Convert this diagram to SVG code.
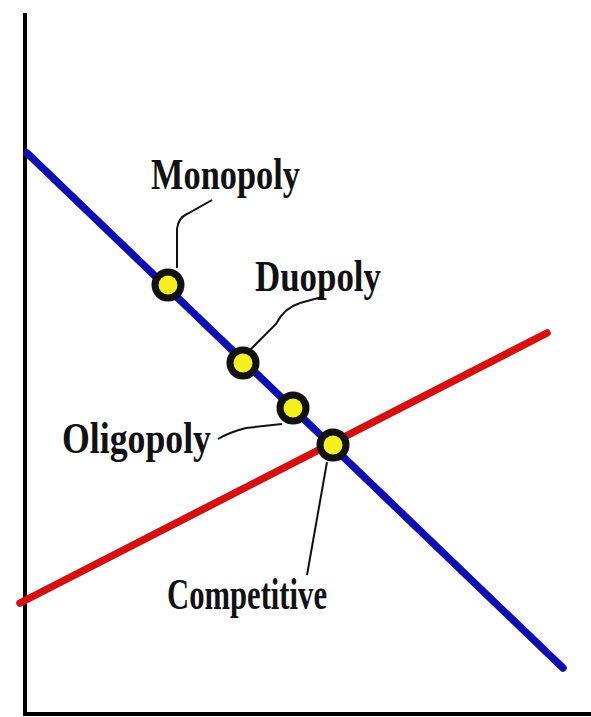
<svg xmlns="http://www.w3.org/2000/svg" width="591" height="717" viewBox="0 0 591 717">
<style>
.lbl{font-family:"Liberation Serif","Times New Roman",serif;font-weight:bold;font-size:45px;fill:#111}
.lead{fill:none;stroke:#111;stroke-width:2}
.pt{fill:#f4f020;stroke:#111;stroke-width:7}
</style>
<rect width="591" height="717" fill="#fff"/>
<g id="axes" stroke="#000" stroke-width="4" fill="none">
<path d="M25,13 V714 H591"/>
</g>
<g id="curves">
<line id="demand" x1="27" y1="153" x2="563" y2="668" stroke="#1010b0" stroke-width="7.5" stroke-linecap="round"/>
<line id="supply" x1="20" y1="603" x2="547" y2="333" stroke="#d41010" stroke-width="7.5" stroke-linecap="round"/>
</g>
<g id="connectors">
<path class="lead" d="M177,268 L177,229 Q178,218 187,214 L212,200"/>
<path class="lead" d="M322,297 L300,303 Q284,308 276,324 L250,350"/>
<path class="lead" d="M218,439 Q230,432 246,428 L282,424"/>
<path class="lead" d="M327,462 L307,575"/>
</g>
<g id="monopoly"><circle class="pt" cx="168" cy="285" r="13"/><text class="lbl" x="151" y="189" textLength="149" lengthAdjust="spacingAndGlyphs">Monopoly</text></g>
<g id="duopoly"><circle class="pt" cx="243" cy="363" r="13"/><text class="lbl" x="255" y="291" textLength="126" lengthAdjust="spacingAndGlyphs">Duopoly</text></g>
<g id="oligopoly"><circle class="pt" cx="293" cy="408" r="13"/><text class="lbl" x="62" y="453" textLength="149" lengthAdjust="spacingAndGlyphs">Oligopoly</text></g>
<g id="competitive"><circle class="pt" cx="333" cy="445" r="13"/><text class="lbl" x="167" y="609" textLength="160" lengthAdjust="spacingAndGlyphs">Competitive</text></g>
</svg>
